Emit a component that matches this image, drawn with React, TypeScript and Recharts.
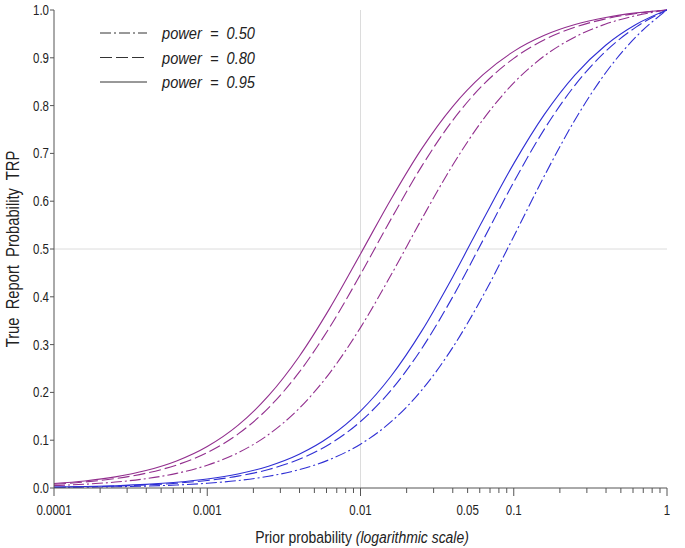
import { LineChart, Line, XAxis, YAxis, ReferenceLine, Label } from 'recharts';

// prior probability (x, log scale)
const priorProb = [
  0.0001, 0.0001585, 0.0002512, 0.0003981, 0.000631, 0.001, 0.001585, 0.002512, 0.003981, 0.00631,
  0.01, 0.01585, 0.02512, 0.03981, 0.0631, 0.1, 0.1585, 0.2512, 0.3981, 0.631, 1,
];

// purple group
const purple50 = [0.005, 0.0079, 0.0124, 0.0195, 0.0306, 0.0477, 0.0735, 0.1118, 0.1666, 0.241, 0.3356, 0.446, 0.563, 0.6746, 0.771, 0.8475, 0.904, 0.9437, 0.9706, 0.9884, 1];
const purple80 = [0.0079, 0.0125, 0.0197, 0.0309, 0.0481, 0.0741, 0.1127, 0.1677, 0.2423, 0.3368, 0.4469, 0.563, 0.6734, 0.7684, 0.8434, 0.8989, 0.9378, 0.9641, 0.9815, 0.9927, 1];
const purple95 = [0.0094, 0.0148, 0.0233, 0.0365, 0.0566, 0.0868, 0.131, 0.1931, 0.2752, 0.3763, 0.4897, 0.6047, 0.71, 0.7975, 0.8648, 0.9135, 0.9471, 0.9696, 0.9843, 0.9939, 1];

// blue group
const blue50 = [0.001, 0.0016, 0.0025, 0.004, 0.0063, 0.0099, 0.0156, 0.0246, 0.0384, 0.0597, 0.0917, 0.1387, 0.2049, 0.2931, 0.4024, 0.5263, 0.6532, 0.7704, 0.8687, 0.9447, 1];
const blue80 = [0.0016, 0.0025, 0.004, 0.0063, 0.01, 0.0158, 0.0248, 0.0387, 0.0601, 0.0922, 0.1391, 0.2049, 0.2919, 0.3988, 0.5187, 0.64, 0.7508, 0.8429, 0.9137, 0.9647, 1];
const blue95 = [0.0019, 0.003, 0.0048, 0.0075, 0.0119, 0.0187, 0.0293, 0.0457, 0.0706, 0.1077, 0.161, 0.2343, 0.3287, 0.4406, 0.5613, 0.6786, 0.7816, 0.8644, 0.9263, 0.9701, 1];

const xLabelTicks = [0.0001, 0.001, 0.01, 0.05, 0.1, 1];
const xLabelText = ['0.0001', '0.001', '0.01', '0.05', '0.1', '1'];
const yTicks = [0, 0.1, 0.2, 0.3, 0.4, 0.5, 0.6, 0.7, 0.8, 0.9, 1];
const yTickText = ['0.0', '0.1', '0.2', '0.3', '0.4', '0.5', '0.6', '0.7', '0.8', '0.9', '1.0'];
const legendLabels = ['power  =  0.50', 'power  =  0.80', 'power  =  0.95'];

const decades = [0.0001, 0.001, 0.01, 0.1];
const multipliers = [1, 2, 3, 4, 5, 6, 7, 8, 9];
const xTicks = [...decades.flatMap((d) => multipliers.map((m) => +(d * m).toPrecision(3))), 1];
const majorX = [0.0001, 0.001, 0.01, 0.1, 1];

const data = priorProb.map((p, i) => ({
  p,
  pu50: purple50[i],
  pu80: purple80[i],
  pu95: purple95[i],
  bl50: blue50[i],
  bl80: blue80[i],
  bl95: blue95[i],
}));

// Arial Narrow look: Liberation Sans squeezed horizontally
const FONT = '"Liberation Sans", Arial, sans-serif';
const NARROW = 0.82;
const PURPLE = '#922f8e';
const BLUE = '#2f2fd4';
const DASH_DOT = '11 3 2 3';
const DASH = '12 4';
const axisColor = '#555';
const textColor = '#222';

const NarrowText = ({ x, y, rotate = 0, anchor = 'middle', size = 14, italic = false, children, wordSpacing }: any) => (
  <g transform={`translate(${x} ${y}) rotate(${rotate}) scale(${NARROW} 1)`}>
    <text
      x={0}
      y={0}
      textAnchor={anchor}
      fontSize={size}
      fontStyle={italic ? 'italic' : 'normal'}
      fill={textColor}
      fontFamily={FONT}
      style={{ whiteSpace: 'pre', wordSpacing }}
    >
      {children}
    </text>
  </g>
);

const XTick = (props: any) => {
  const { x, y, payload } = props;
  const v = payload.value;
  const idx = xLabelTicks.findIndex((t) => Math.abs(t - v) < v * 1e-6);
  const major = majorX.some((t) => Math.abs(t - v) < v * 1e-6);
  return (
    <g>
      <line x1={x} x2={x} y1={y} y2={y + (major ? 8 : 5)} stroke={axisColor} strokeWidth={1} />
      {idx >= 0 && (
        <NarrowText x={x} y={y + 27} size={14}>
          {xLabelText[idx]}
        </NarrowText>
      )}
    </g>
  );
};

const YTick = (props: any) => {
  const { x, y, payload } = props;
  const idx = yTicks.findIndex((t) => Math.abs(t - payload.value) < 1e-9);
  return (
    <g>
      <line x1={x} x2={x - 4} y1={y} y2={y} stroke={axisColor} strokeWidth={1} />
      <NarrowText x={x - 5} y={y + 5} anchor="end" size={14}>
        {yTickText[idx]}
      </NarrowText>
    </g>
  );
};

export default function App() {
  const dashes = [DASH_DOT, DASH, undefined];
  return (
    <div style={{ position: 'absolute', left: 0, top: 0, width: 685, height: 548, background: '#fff' }}>
      <LineChart width={685} height={548} data={data} margin={{ top: 10, right: 18, bottom: 0, left: 0 }}>
        <XAxis
          dataKey="p"
          type="number"
          scale="log"
          domain={[0.0001, 1]}
          ticks={xTicks}
          interval={0}
          height={60}
          tickSize={0}
          tickMargin={0}
          tickLine={false}
          axisLine={{ stroke: axisColor }}
          tick={<XTick />}
          allowDataOverflow
        >
          <Label
            content={() => (
              <NarrowText x={362} y={543} size={17}>
                <tspan>Prior probability </tspan>
                <tspan fontStyle="italic">(logarithmic scale)</tspan>
              </NarrowText>
            )}
          />
        </XAxis>
        <YAxis
          type="number"
          domain={[0, 1]}
          ticks={yTicks}
          interval={0}
          width={54}
          tickSize={0}
          tickMargin={0}
          tickLine={false}
          axisLine={{ stroke: axisColor }}
          tick={<YTick />}
        >
          <Label
            content={() => (
              <g transform="translate(19 249) rotate(-90)">
                <NarrowText x={0} y={0} size={18} wordSpacing={5}>
                  True Report Probability TRP
                </NarrowText>
              </g>
            )}
          />
        </YAxis>
        <ReferenceLine x={0.01} stroke="#dcdcdc" strokeWidth={1} />
        <ReferenceLine y={0.5} stroke="#dcdcdc" strokeWidth={1} />
        <Line type="monotone" dataKey="pu50" stroke={PURPLE} strokeWidth={1.1} strokeDasharray={DASH_DOT} dot={false} isAnimationActive={false} />
        <Line type="monotone" dataKey="pu80" stroke={PURPLE} strokeWidth={1.1} strokeDasharray={DASH} dot={false} isAnimationActive={false} />
        <Line type="monotone" dataKey="pu95" stroke={PURPLE} strokeWidth={1.1} dot={false} isAnimationActive={false} />
        <Line type="monotone" dataKey="bl50" stroke={BLUE} strokeWidth={1.1} strokeDasharray={DASH_DOT} dot={false} isAnimationActive={false} />
        <Line type="monotone" dataKey="bl80" stroke={BLUE} strokeWidth={1.1} strokeDasharray={DASH} dot={false} isAnimationActive={false} />
        <Line type="monotone" dataKey="bl95" stroke={BLUE} strokeWidth={1.1} dot={false} isAnimationActive={false} />
      </LineChart>
      <svg width={200} height={80} style={{ position: 'absolute', left: 95, top: 20 }}>
        {legendLabels.map((lab, i) => (
          <g key={lab}>
            <line x1={5} x2={52} y1={13 + i * 24.5} y2={13 + i * 24.5} stroke="#333" strokeWidth={1} strokeDasharray={dashes[i]} />
            <text
              x={67}
              y={19 + i * 24.5}
              fontSize={17}
              fontStyle="italic"
              fill={textColor}
              fontFamily={FONT}
              textLength={93}
              lengthAdjust="spacingAndGlyphs"
              style={{ whiteSpace: 'pre' }}
            >
              {lab}
            </text>
          </g>
        ))}
      </svg>
    </div>
  );
}
